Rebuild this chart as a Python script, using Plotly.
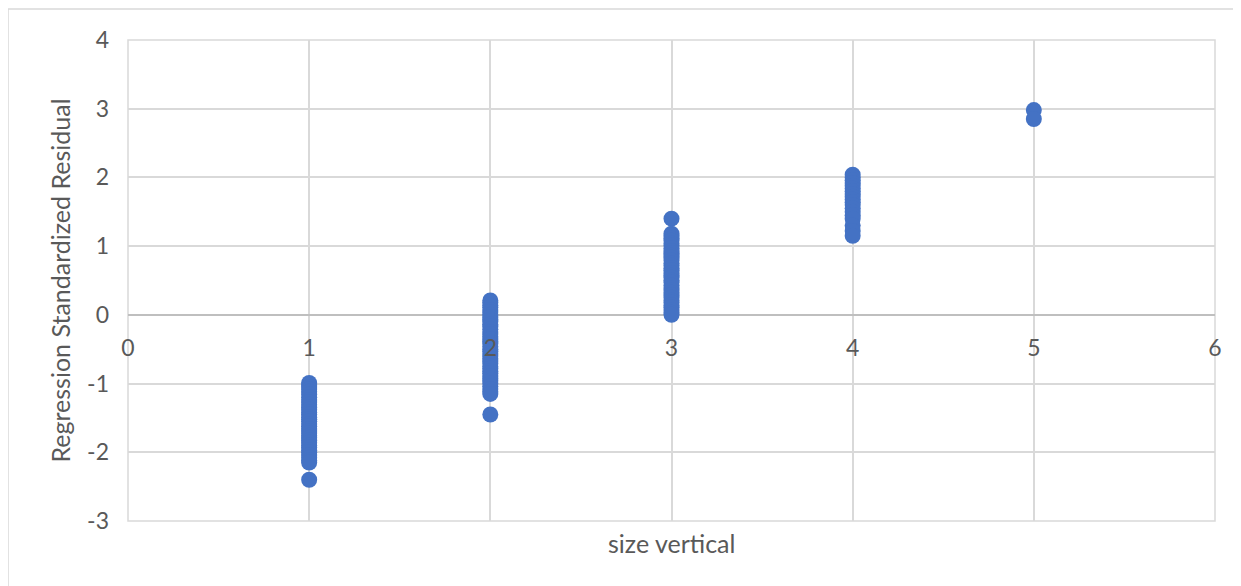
import plotly.graph_objects as go

# ---- data ----
size_vertical_levels = [1, 2, 3, 4, 5]

resid_1 = [-0.99, -1.02, -1.05, -1.08, -1.12, -1.16, -1.20, -1.24, -1.27, -1.31,
           -1.35, -1.38, -1.42, -1.45, -1.49, -1.52, -1.55, -1.59, -1.62, -1.66,
           -1.69, -1.72, -1.76, -1.79, -1.83, -1.86, -1.90, -1.93, -1.97, -2.00,
           -2.04, -2.08, -2.12, -2.15, -2.40]
resid_2 = [0.21, 0.18, 0.14, 0.11, 0.07, 0.04, 0.00, -0.03, -0.07, -0.10,
           -0.14, -0.17, -0.21, -0.25, -0.28, -0.32, -0.35, -0.39, -0.42, -0.46,
           -0.50, -0.53, -0.57, -0.60, -0.64, -0.67, -0.71, -0.75, -0.78, -0.82,
           -0.85, -0.89, -0.93, -0.96, -1.00, -1.04, -1.08, -1.12, -1.15, -1.45]
resid_3 = [1.40, 1.18, 1.15, 1.11, 1.08, 1.04, 1.01, 0.97, 0.93, 0.90,
           0.86, 0.83, 0.79, 0.75, 0.72, 0.68, 0.65, 0.61, 0.57, 0.54,
           0.50, 0.47, 0.43, 0.39, 0.36, 0.32, 0.29, 0.25, 0.21, 0.18,
           0.14, 0.11, 0.07, 0.03, 0.00]
resid_4 = [2.04, 2.00, 1.96, 1.92, 1.88, 1.84, 1.80, 1.76, 1.72, 1.68,
           1.64, 1.60, 1.55, 1.50, 1.45, 1.40, 1.30, 1.22, 1.15]
resid_5 = [2.98, 2.85]

residual_groups = [resid_1, resid_2, resid_3, resid_4, resid_5]

x_ticks = [0, 1, 2, 3, 4, 5, 6]
y_ticks = [-3, -2, -1, 0, 1, 2, 3, 4]

x_title = "size vertical"
y_title = "Regression Standardized Residual"

# ---- build ----
xs, ys = [], []
for lvl, grp in zip(size_vertical_levels, residual_groups):
    xs += [lvl] * len(grp)
    ys += grp

FONT = "Lato"
FS = 23      # tick labels
FT = 25      # axis titles
TXT = "#595959"
GRID = "#D9D9D9"

fig = go.Figure(
    go.Scatter(
        x=xs, y=ys, mode="markers",
        marker=dict(color="#4472C4", size=16, line=dict(width=0)),
        showlegend=False,
    )
)

y_min, y_max = -3, 4

# page has an 8px body margin, so the figure is 8px smaller and margins shifted
W, H = 1233, 578
ML, MT, MR, MB = 120, 32, 26, 65
plot_w = W - ML - MR
plot_h = H - MT - MB

def px_x(p):  # page pixel x -> paper
    return (p - 8 - ML) / plot_w

def px_y(p):  # page pixel y -> paper
    return (H - MB - (p - 8)) / plot_h

fig.update_layout(
    width=W, height=H,
    margin=dict(l=ML, r=MR, t=MT, b=MB),
    paper_bgcolor="white", plot_bgcolor="white",
    font=dict(family=FONT, color=TXT, size=FS),
    xaxis=dict(
        range=[0, 6], tickvals=x_ticks, ticktext=[str(v) for v in x_ticks],
        showgrid=True, gridcolor=GRID, gridwidth=1.5,
        zeroline=False, showline=False, ticks="",
        anchor="free", position=(0 - y_min) / (y_max - y_min),
        ticklabelstandoff=17, tickfont=dict(size=FS, color=TXT, family=FONT),
    ),
    yaxis=dict(
        range=[y_min, y_max], tickvals=y_ticks, ticktext=[str(v) for v in y_ticks],
        showgrid=True, gridcolor=GRID, gridwidth=1.5,
        zeroline=True, zerolinecolor="#BFBFBF", zerolinewidth=1.5,
        showline=False, ticks="", ticklabelstandoff=18,
        tickfont=dict(size=FS, color=TXT, family=FONT),
        title=dict(text=y_title, standoff=9, font=dict(size=FT, color=TXT, family=FONT)),
    ),
    annotations=[
        dict(text=x_title, xref="paper", yref="paper", x=0.5, y=px_y(543),
             xanchor="center", yanchor="middle", showarrow=False,
             font=dict(size=FT, color=TXT, family=FONT)),
    ],
    shapes=[
        dict(type="rect", xref="paper", yref="paper", x0=0, x1=1, y0=0, y1=1,
             line=dict(color=GRID, width=1.5), fillcolor="rgba(0,0,0,0)", layer="below"),
        dict(type="rect", xref="paper", yref="paper",
             x0=px_x(8), x1=px_x(1270), y0=px_y(620), y1=px_y(9),
             line=dict(color=GRID, width=1.5), fillcolor="rgba(0,0,0,0)", layer="below"),
    ],
)

fig.write_html("out.html")
